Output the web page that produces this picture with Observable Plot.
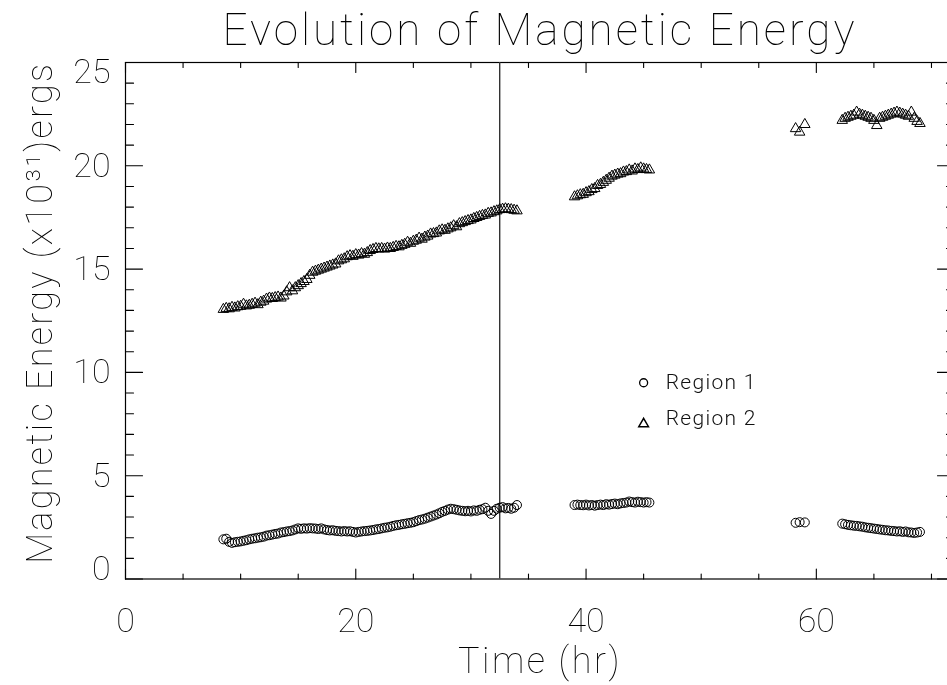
<!DOCTYPE html>
<html><head><meta charset="utf-8">
<script src="https://cdn.jsdelivr.net/npm/d3@7"></script>
<script src="https://cdn.jsdelivr.net/npm/@observablehq/plot@0.6"></script>
<style>
body{margin:0;background:#fff;}
#chart svg{display:block;will-change:transform;}
</style></head><body><div id="chart"></div>
<script>
const chartTitle = "Evolution of Magnetic Energy";
const xLabel = "Time (hr)";
const yLabel = "Magnetic Energy (x10\u00B3\u00B9)ergs";
const seriesNames = ["Region 1", "Region 2"];
const xTickLabels = [0, 20, 40, 60];
const xMinorTicks = [5, 10, 15, 25, 30, 35, 45, 50, 55, 65, 70];
const yTickLabels = [0, 5, 10, 15, 20, 25];
const yMinorTicks = [1,2,3,4,6,7,8,9,11,12,13,14,16,17,18,19,21,22,23,24];
const markerTime = 32.5;

// Segment 1
const time1 = [8.5,8.75,9,9.25,9.5,9.75,10,10.25,10.5,10.75,11,11.25,11.5,11.75,12,12.25,12.5,12.75,13,13.25,13.5,13.75,14,14.25,14.5,14.75,15,15.25,15.5,15.75,16,16.25,16.5,16.75,17,17.25,17.5,17.75,18,18.25,18.5,18.75,19,19.25,19.5,19.75,20,20.25,20.5,20.75,21,21.25,21.5,21.75,22,22.25,22.5,22.75,23,23.25,23.5,23.75,24,24.25,24.5,24.75,25,25.25,25.5,25.75,26,26.25,26.5,26.75,27,27.25,27.5,27.75,28,28.25,28.5,28.75,29,29.25,29.5,29.75,30,30.25,30.5,30.75,31,31.25,31.5,31.75,32,32.25,32.5,32.75,33,33.25,33.5,33.75,34];
const region1_1 = [1.92,1.95,1.8,1.75,1.78,1.8,1.82,1.85,1.88,1.92,1.95,1.97,2.0,2.02,2.05,2.1,2.12,2.15,2.18,2.2,2.25,2.27,2.3,2.32,2.35,2.4,2.45,2.43,2.45,2.44,2.46,2.45,2.44,2.42,2.45,2.4,2.37,2.35,2.36,2.33,2.32,2.3,2.32,2.3,2.31,2.28,2.25,2.28,2.3,2.32,2.33,2.35,2.37,2.4,2.42,2.45,2.48,2.5,2.53,2.57,2.6,2.62,2.65,2.67,2.7,2.72,2.75,2.8,2.85,2.88,2.92,2.97,3.02,3.07,3.12,3.18,3.25,3.3,3.36,3.4,3.38,3.35,3.32,3.3,3.28,3.3,3.27,3.32,3.3,3.35,3.38,3.45,3.3,3.15,3.3,3.4,3.45,3.48,3.42,3.44,3.4,3.45,3.58];
const region2_1 = [13.05,13.1,13.08,13.15,13.12,13.18,13.2,13.3,13.22,13.25,13.3,13.35,13.28,13.4,13.45,13.55,13.6,13.58,13.62,13.65,13.6,13.7,13.9,14.1,13.95,14.1,14.2,14.3,14.4,14.5,14.7,14.85,14.9,14.95,15.0,15.05,15.1,15.15,15.2,15.25,15.4,15.45,15.5,15.6,15.65,15.62,15.7,15.68,15.75,15.72,15.8,15.9,15.95,16.0,15.98,16.0,15.97,16.02,16.0,16.05,16.1,16.08,16.15,16.2,16.3,16.25,16.35,16.4,16.5,16.45,16.55,16.6,16.7,16.72,16.75,16.85,16.9,16.88,16.95,17.0,17.1,17.05,17.2,17.25,17.3,17.35,17.38,17.45,17.5,17.55,17.6,17.62,17.7,17.72,17.78,17.82,17.88,17.9,17.92,17.9,17.88,17.85,17.82];

// Segment 2
const time2 = [39,39.25,39.5,39.75,40,40.25,40.5,40.75,41,41.25,41.5,41.75,42,42.25,42.5,42.75,43,43.25,43.5,43.75,44,44.25,44.5,44.75,45,45.25,45.5];
const region1_2 = [3.58,3.6,3.58,3.57,3.6,3.56,3.58,3.55,3.58,3.6,3.58,3.62,3.6,3.63,3.65,3.62,3.66,3.68,3.7,3.75,3.72,3.7,3.74,3.72,3.7,3.72,3.7];
const region2_2 = [18.5,18.55,18.6,18.62,18.7,18.75,18.85,18.9,19.05,19.1,19.2,19.3,19.4,19.5,19.55,19.6,19.62,19.7,19.72,19.8,19.75,19.85,19.82,19.9,19.85,19.82,19.8];

// Segment 3
const time3 = [58.2, 58.55, 59.0];
const region1_3 = [2.72, 2.75, 2.74];
const region2_3 = [21.8, 21.63, 22.0];

// Segment 4
const time4 = [62.25,62.5,62.75,63,63.25,63.5,63.75,64,64.25,64.5,64.75,65,65.25,65.5,65.75,66,66.25,66.5,66.75,67,67.25,67.5,67.75,68,68.25,68.5,68.75,69];
const region1_4 = [2.68,2.65,2.62,2.6,2.58,2.57,2.55,2.53,2.5,2.48,2.46,2.44,2.42,2.4,2.38,2.36,2.35,2.33,2.32,2.3,2.31,2.28,2.3,2.26,2.25,2.23,2.25,2.28];
const region2_4 = [22.2,22.3,22.35,22.4,22.45,22.6,22.5,22.45,22.4,22.35,22.3,22.2,21.95,22.3,22.35,22.4,22.45,22.5,22.55,22.6,22.55,22.5,22.45,22.4,22.6,22.3,22.15,22.05];

const segments = [
  [time1, region1_1, region2_1],
  [time2, region1_2, region2_2],
  [time3, region1_3, region2_3],
  [time4, region1_4, region2_4]
];
const rows1 = [], rows2 = [];
for (const [t, a, b] of segments) {
  t.forEach((tt, i) => {
    rows1.push({time: tt, energy: a[i]});
    rows2.push({time: tt, energy: b[i]});
  });
}

const FONT = "Roboto, 'DejaVu Sans', sans-serif";
const tickShape = {draw(context, l) { context.moveTo(0, 0); context.lineTo(0, -l); }};
const tickOpts = {anchor: "start", shape: tickShape, stroke: "black", strokeWidth: 1.1};

const legendRows = [
  {name: seriesNames[0], symbol: "circle", y: 9.5},
  {name: seriesNames[1], symbol: "triangle", y: 7.8}
];

const chart = Plot.plot({
  width: 947,
  height: 685,
  marginTop: 62,
  marginBottom: 106.5,
  marginLeft: 125,
  marginRight: -7,
  style: {fontFamily: FONT, background: "white", color: "black"},
  x: {domain: [0, 72], axis: null},
  y: {domain: [0, 25], axis: null},
  marks: [
    Plot.frame({stroke: "black", strokeWidth: 1.2}),
    Plot.vector(xTickLabels, {x: d => d, frameAnchor: "bottom", length: 10, rotate: 0, ...tickOpts}),
    Plot.vector(xMinorTicks, {x: d => d, frameAnchor: "bottom", length: 5, rotate: 0, ...tickOpts}),
    Plot.vector(xTickLabels, {x: d => d, frameAnchor: "top", length: 10, rotate: 180, ...tickOpts}),
    Plot.vector(xMinorTicks, {x: d => d, frameAnchor: "top", length: 5, rotate: 180, ...tickOpts}),
    Plot.vector(yTickLabels, {y: d => d, frameAnchor: "left", length: 17, rotate: 90, ...tickOpts}),
    Plot.vector(yMinorTicks, {y: d => d, frameAnchor: "left", length: 8, rotate: 90, ...tickOpts}),
    Plot.vector(yTickLabels, {y: d => d, frameAnchor: "right", length: 17, rotate: -90, ...tickOpts}),
    Plot.vector(yMinorTicks, {y: d => d, frameAnchor: "right", length: 8, rotate: -90, ...tickOpts}),
    Plot.text(xTickLabels, {x: d => d, text: d => String(d), frameAnchor: "bottom", dy: 42, textAnchor: "middle", lineAnchor: "middle", fontSize: 34, fontWeight: 100, fill: "black"}),
    Plot.text(yTickLabels.filter(d => d > 0 && d < 25), {y: d => d, text: d => String(d), frameAnchor: "left", dx: -15, textAnchor: "end", lineAnchor: "middle", fontSize: 34, fontWeight: 100, fill: "black"}),
    Plot.text(yTickLabels.filter(d => d === 25), {y: d => d, text: d => String(d), frameAnchor: "left", dx: -15, dy: 10, textAnchor: "end", lineAnchor: "middle", fontSize: 34, fontWeight: 100, fill: "black"}),
    Plot.text(yTickLabels.filter(d => d === 0), {y: d => d, text: d => String(d), frameAnchor: "left", dx: -15, dy: -10, textAnchor: "end", lineAnchor: "middle", fontSize: 34, fontWeight: 100, fill: "black"}),
    Plot.text([xLabel], {text: d => d, frameAnchor: "bottom", dy: 82, textAnchor: "middle", lineAnchor: "middle", fontSize: 36, fontWeight: 100, fill: "black"}),
    Plot.text([yLabel], {text: d => d, frameAnchor: "left", dx: -85, dy: -8, rotate: -90, textAnchor: "middle", lineAnchor: "middle", fontSize: 36, fontWeight: 100, fill: "black"}),
    Plot.text([chartTitle], {text: d => d, frameAnchor: "top", dy: -32, textAnchor: "middle", lineAnchor: "middle", fontSize: 44, fontWeight: 100, fill: "black"}),
    Plot.ruleX([markerTime], {stroke: "#333", strokeWidth: 1.4}),
    Plot.dot(rows1, {x: "time", y: "energy", symbol: "circle", r: 4.5, stroke: "black", fill: "none", strokeWidth: 1}),
    Plot.dot(rows2, {x: "time", y: "energy", symbol: "triangle", r: 3.9, stroke: "black", fill: "none", strokeWidth: 1}),
    Plot.dot(legendRows.filter(d => d.symbol === "circle"), {x: () => 45, y: "y", symbol: "circle", r: 4, stroke: "black", fill: "none", strokeWidth: 1.3}),
    Plot.dot(legendRows.filter(d => d.symbol === "triangle"), {x: () => 45, y: "y", dy: 6, symbol: "triangle", r: 3.6, stroke: "black", fill: "none", strokeWidth: 1.5}),
    Plot.text(legendRows, {x: () => 45, y: "y", text: "name", dx: 22, textAnchor: "start", lineAnchor: "middle", fontSize: 21, fontWeight: 300, fill: "#111"})
  ]
});

// Hershey-style wide letter spacing
const spacing = new Map([
  [chartTitle, "3px"],
  [xLabel, "2.5px"],
  [yLabel, "2.3px"],
  [seriesNames[0], "1.3px"],
  [seriesNames[1], "1.3px"]
]);
d3.select(chart).selectAll("text").each(function() {
  const s = spacing.get(this.textContent);
  if (s) this.setAttribute("letter-spacing", s);
});
document.getElementById("chart").appendChild(chart);
</script>
</body></html>
